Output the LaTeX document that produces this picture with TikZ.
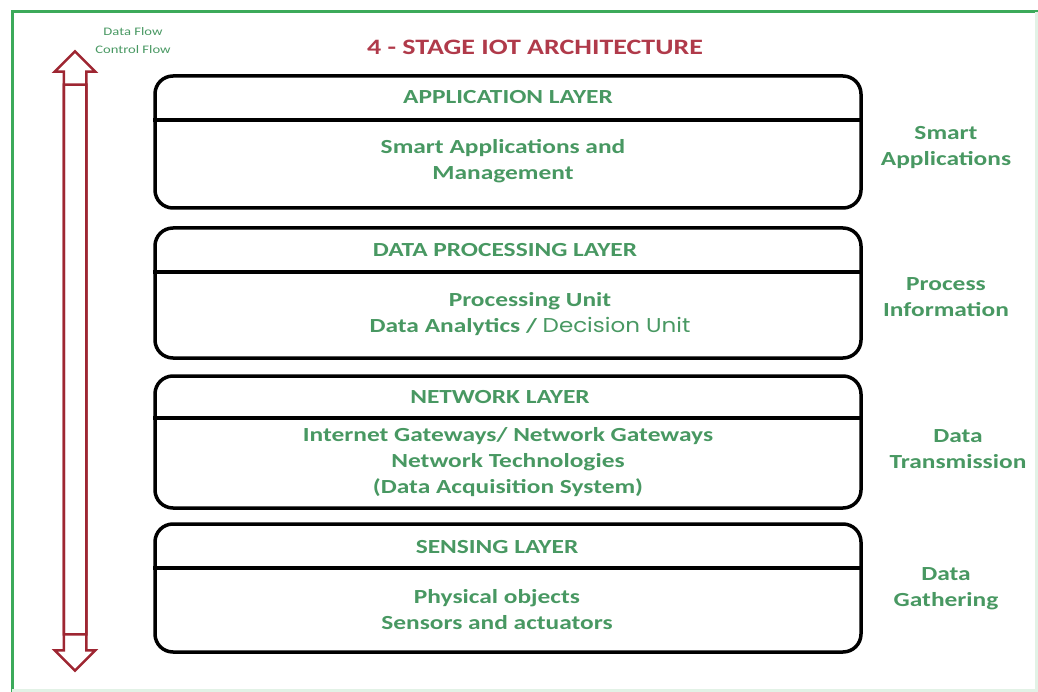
\documentclass[tikz,border=0pt]{standalone}
\usepackage{fontspec}
\setmainfont[FakeStretch=1.27]{Carlito}
\newfontfamily\gothicfont[FakeStretch=1.15]{Poppins}
\usepackage{tikz}
\usetikzlibrary{shapes,arrows,positioning}
\usepackage{xcolor}
\definecolor{layergreen}{RGB}{72,152,98}
\definecolor{titlered}{RGB}{176,58,74}
\definecolor{flowred}{RGB}{158,38,50}
\definecolor{framegreen}{RGB}{60,170,90}

\begin{document}
\begin{tikzpicture}[x=1pt,y=-1pt]
      \tikzstyle{layer} = [draw, line width=3.5pt, rounded corners=18pt, minimum width=706pt, inner sep=0pt]
      \tikzstyle{head} = [font=\bfseries\fontsize{20}{24}\selectfont, text=layergreen]
      \tikzstyle{body} = [font=\bfseries\fontsize{20}{26}\selectfont, text=layergreen, align=center]
      \tikzstyle{flow} = [single arrow, draw=flowred, line width=2.5pt, inner xsep=0pt, inner ysep=10pt, single arrow head extend=9pt]

      \useasboundingbox (0,0) rectangle (1038,692);
      \draw[framegreen, line width=3pt] (12,692) -- (12,12) -- (1038,12);
      \draw[framegreen!15, line width=3pt] (1036,12) -- (1036,690) -- (12,690);

      \node[font=\bfseries\fontsize{22}{26}\selectfont, text=titlered] (title) at (535,47) {4 - STAGE IOT ARCHITECTURE};
      \node[font=\fontsize{11.5}{18}\selectfont, text=layergreen, align=center] (flowlabel) at (133,41) {Data Flow\\Control Flow};

      % flow arrows
      \node[flow, rotate=90, minimum height=583pt] (dataflow) at (75,348.5) {};
      \node[flow, rotate=-90, minimum height=586pt] (controlflow) at (75,372) {};

      % layers
      \node[layer, minimum height=132pt] (app) at (508,142) {};
      \node[layer, minimum height=130pt] (proc) at (508,293) {};
      \node[layer, minimum height=132pt] (net) at (508,442) {};
      \node[layer, minimum height=128pt] (sense) at (508,588) {};

      \draw[line width=3.5pt] (app.west |- 0,120) -- (app.east |- 0,120);
      \draw[line width=3.5pt] (proc.west |- 0,272) -- (proc.east |- 0,272);
      \draw[line width=3.5pt] (net.west |- 0,418) -- (net.east |- 0,418);
      \draw[line width=3.5pt] (sense.west |- 0,568) -- (sense.east |- 0,568);

      \node[head] (apphead) at (508,97) {APPLICATION LAYER};
      \node[head] (prochead) at (505,250) {DATA PROCESSING LAYER};
      \node[head] (nethead) at (500,397) {NETWORK LAYER};
      \node[head] (sensehead) at (497,547) {SENSING LAYER};

      \node[body] (appbody) at (503,161) {Smart Applications and\\Management};
      \node[body] (procbody) at (530,314) {Processing Unit\\Data Analytics / {\mdseries\gothicfont Decision Unit}};
      \node[body] (netbody) at (508,462) {Internet Gateways/ Network Gateways\\Network Technologies\\(Data Acquisition System)};
      \node[body] (sensebody) at (497,610) {Physical objects\\Sensors and actuators};

      \node[body] (appside) at (946,148) {Smart\\Applications};
      \node[body] (procside) at (946,297) {Process\\Information};
      \node[body] (netside) at (958,449) {Data\\Transmission};
      \node[body] (senseside) at (946,589) {Data\\Gathering};
    \end{tikzpicture}
\end{document}
